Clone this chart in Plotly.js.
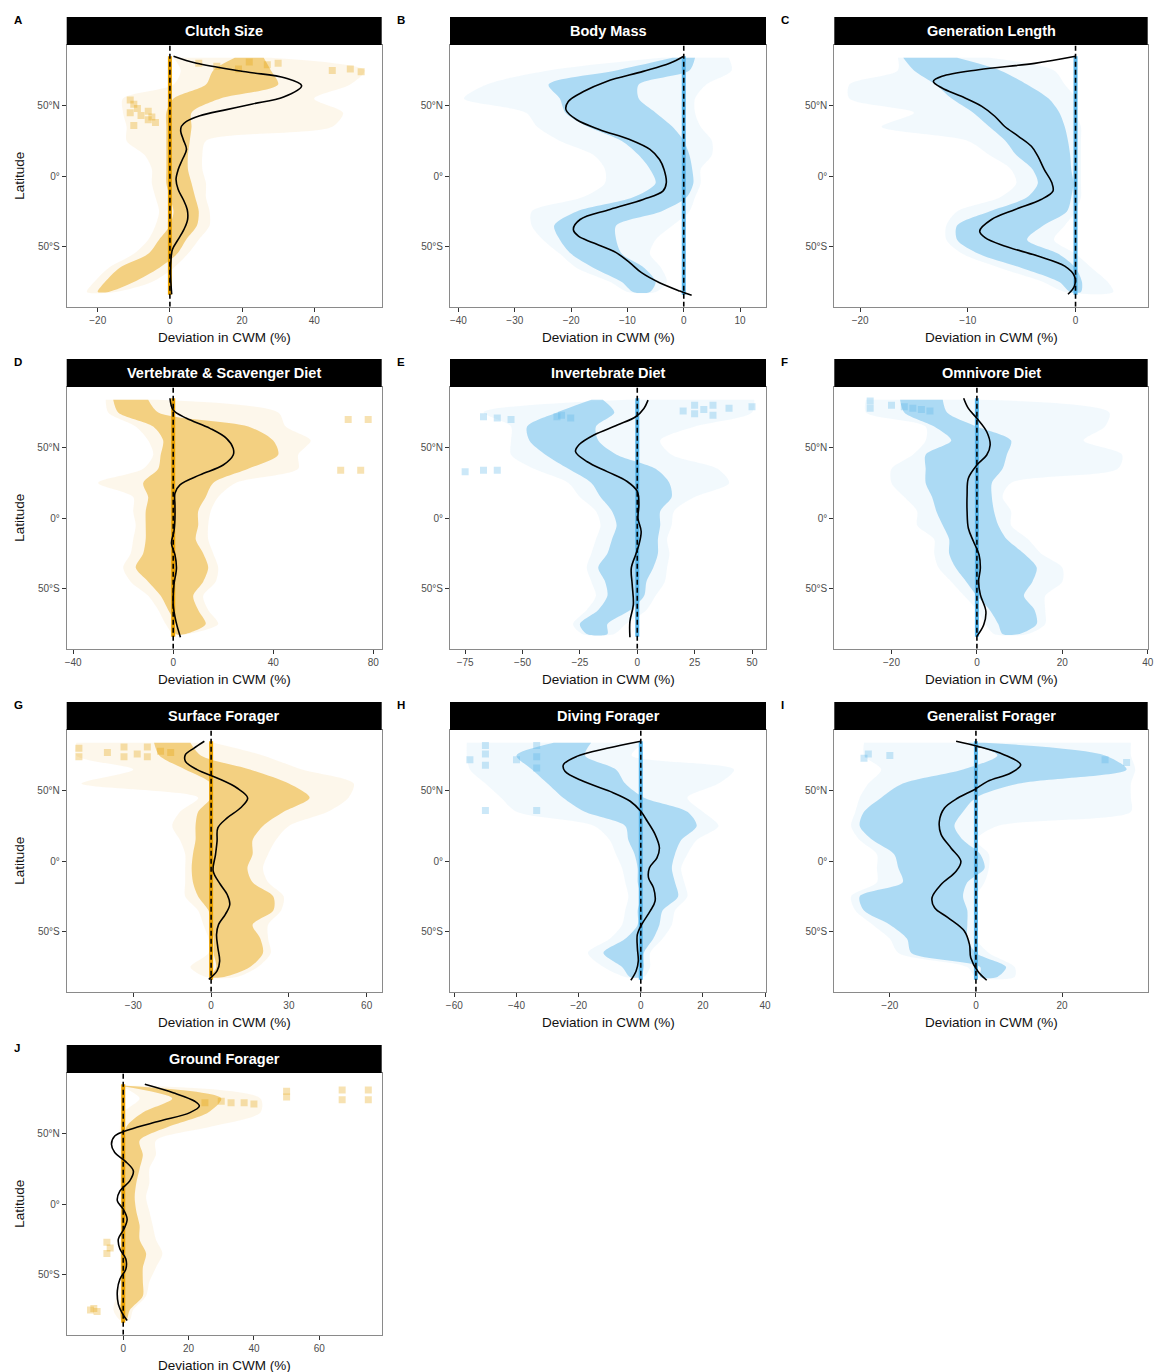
<!DOCTYPE html>
<html><head><meta charset="utf-8">
<script src="https://cdn.plot.ly/plotly-3.0.1.min.js"></script>
<style>html,body{margin:0;padding:0;background:#fff}#chart{width:1156px;height:1372px}</style>
</head><body><div id="chart"></div>
<script>
// ---------- data ----------
const Y_TICK_VALS = [50, 0, -50];
const Y_TICK_TEXT = ['50°N', '0°', '50°S'];
const PANEL_LETTERS = ['A','B','C','D','E','F','G','H','I','J'];
const PANEL_TITLES = ['Clutch Size','Body Mass','Generation Length','Vertebrate & Scavenger Diet','Invertebrate Diet','Omnivore Diet','Surface Forager','Diving Forager','Generalist Forager','Ground Forager'];
const X_TICKS_A = [-20,0,20,40];
const X_TICKS_B = [-40,-30,-20,-10,0,10];
const X_TICKS_C = [-20,-10,0];
const X_TICKS_D = [-40,0,40,80];
const X_TICKS_E = [-75,-50,-25,0,25,50];
const X_TICKS_F = [-20,0,20,40];
const X_TICKS_G = [-30,0,30,60];
const X_TICKS_H = [-60,-40,-20,0,20,40];
const X_TICKS_I = [-20,0,20,40];
const X_TICKS_J = [0,20,40,60];
const ZERO_SPAN = [-84, 85];

// latitude grid of the point-cloud envelopes
const BAND_LAT = [84,75,65,55,45,35,25,15,5,-5,-15,-25,-35,-45,-55,-65,-75,-82];

const A_CORE_LO = [18,12,10,1,-1,-1,-1,-1,-1,-1,0,1,0,-3,-6,-14,-18,-20];
const A_CORE_HI = [26,28,30,14,6,6,5.5,5,5,6,7,8,7.5,4.5,2,-3,-10,-17];
const A_HALO_LO = [1,3,1,-13,-13,-12,-12,-7,-5,-5,-4,-3,-4,-6,-10,-17,-21,-23];
const A_HALO_HI = [28,54,50,40,48,45,10,9,9,10,10,11,11,8,5,1,-5,-15];
const A_EXTRA_X = [8,13,19,22,27,30,45,50,53,-11,-10,-9,-11,-8,-6,-5,-4,-6,-10];
const A_EXTRA_LAT = [80,78,76,81,79,80,75,76,74,54,51,48,45,43,46,42,38,40,36];

const B_CORE_LO = [-2,-12,-24,-22,-21,-17,-11,-8,-6,-5,-9,-19,-23,-22,-20,-16,-11,-9];
const B_CORE_HI = [2,1,-8,-8,-5,-2,0,1,1.5,1.7,0.5,-4,-12,-12,-11,-7,-5,-6];
const B_HALO_LO = [-4,-24,-35,-39,-28,-26,-22,-16,-14,-14,-18,-27,-27,-25,-22,-19,-13,-10];
const B_HALO_HI = [8,8.5,4,2,2,3,5,5,3,3,2,1,-2,-5,-6,-4,-3,-5];
const B_EXTRA_X = [];
const B_EXTRA_LAT = [];

const C_CORE_LO = [-16,-15,-13,-11.5,-9.5,-8,-6.5,-5.5,-4,-3.5,-4.5,-8,-11,-11,-9,-5,-1.5,-0.5];
const C_CORE_HI = [-11,-7,-4.5,-2.5,-1.5,-1,-0.7,-0.5,-0.4,-0.2,-0.4,-0.8,-3,-4.5,-1.6,0,0.6,0.5];
const C_HALO_LO = [-16.5,-16.5,-21,-21,-15,-18,-10,-8,-6,-5.5,-7,-11,-12,-12,-10.5,-7,-3,-1];
const C_HALO_HI = [-8,-2,-1,0,0,0.5,0.5,0.5,0.5,0.5,0.5,0,-1,-2,0,1.5,3,3.5];
const C_EXTRA_X = [];
const C_EXTRA_LAT = [];

const D_CORE_LO = [-24,-22,-8,-4,-5,-6,-12,-10,-11,-11,-11,-12,-15,-10,-5,-2,1,1];
const D_CORE_HI = [-10,-6,30,40,42,30,16,13,10,10,9,12,14,12,8,10,13,5];
const D_HALO_LO = [-27,-26,-15,-10,-8,-12,-30,-16,-16,-15,-16,-17,-20,-17,-10,-6,-3,0];
const D_HALO_HI = [-6,42,45,55,50,50,25,18,15,14,14,16,18,17,12,14,18,6];
const D_EXTRA_X = [70,78,67,75];
const D_EXTRA_LAT = [70,70,34,34];

const E_CORE_LO = [-20,-35,-48,-47,-40,-30,-20,-16,-11,-9,-11,-13,-17,-14,-13,-17,-25,-22];
const E_CORE_HI = [-15,-10,-18,-17,-9,8,14,15,10,10,9,9,7,4,3,-3,-13,-13];
const E_HALO_LO = [-5,-67,-55,-55,-55,-45,-30,-25,-18,-16,-18,-20,-22,-20,-18,-22,-28,-24];
const E_HALO_HI = [51,50,25,10,15,35,40,25,16,15,13,14,13,12,8,4,-5,-10];
const E_EXTRA_X = [20,25,25,29,33,33,40,50,-67,-61,-55,-35,-33,-29,-75,-67,-61];
const E_EXTRA_LAT = [76,80,74,77,80,73,78,79,72,71,70,72,73,71,33,34,34];

const F_CORE_LO = [-18,-17,-10,-6,-12,-12,-12,-10.5,-9.5,-8,-6.5,-6.5,-5,-2.5,0,3,5,6];
const F_CORE_HI = [-8,-7,0,8,7,6,3.5,3.5,4,5,7,11,14,13,11,13.5,14,10];
const F_HALO_LO = [-26,-26,-12,-12,-15,-20,-20,-17,-14,-14,-10,-10,-9,-6,-3,0,2,4];
const F_HALO_HI = [1,31,30,25,34,33,8,6,8,8,12,15,20,20,16,16,16,12];
const F_EXTRA_X = [-25,-25,-20,-17,-15,-13,-11];
const F_EXTRA_LAT = [83,78,80,79,78,77,76];

const G_CORE_LO = [-22,-20,-10,0,0,-5,-6,-6,-7,-7.5,-7,-5,-1,0,1,1,2,0];
const G_CORE_HI = [-8,-4,15,30,38,28,20,16,16,14,16,24,24,16,19,20,15,5];
const G_HALO_LO = [-52,-52,-30,-50,-5,-12,-15,-12,-10,-10,-10,-10,-5,-3,-1,-1,-8,-2];
const G_HALO_HI = [1,20,35,55,53,45,30,25,22,20,22,28,27,22,22,23,18,10];
const G_EXTRA_X = [-51,-51,-40,-33.6,-33.6,-28.5,-24.6,-24.6,-19.5,-15.6];
const G_EXTRA_LAT = [80,74,77,81,74,76,81,74,78,77];

const H_CORE_LO = [-28,-40,-35,-30,-25,-18,-5,-4,-2,-1,-1,0,-1,-1,-5,-12,-6,-3.5];
const H_CORE_HI = [-16,-18,-8,-5,1,15,18,13,11,10,11,12,7,6,4,1,1,0];
const H_HALO_LO = [-56,-56,-55,-50,-45,-40,-15,-10,-8,-6,-5,-4,-5,-6,-10,-17,-12,-5];
const H_HALO_HI = [1,-3,30,25,15,20,25,18,15,13,14,15,11,10,7,3,3,1];
const H_EXTRA_X = [-55,-50,-50,-50,-40,-33.5,-33.5,-33.5,-50,-33.5];
const H_EXTRA_LAT = [72,82,76,68,72,82,74,66,36,36];

const I_CORE_LO = [-2,5,-3,-17,-22,-26,-27,-24,-19,-18,-17,-27,-26,-20,-16,-15,1,1];
const I_CORE_HI = [2,30,35,10,0,-3,-5,-3,1,2,-2,-3,-2,-2,-2,0,7,5];
const I_HALO_LO = [-26,-26,-22,-25,-27,-28,-29,-27,-23,-23,-23,-29,-28,-24,-20,-18,-2,0];
const I_HALO_HI = [36,36,37,36,36,36,5,0,3,3,2,0,0,0,0,3,9,9];
const I_EXTRA_X = [-25,-20,-26,35,30];
const I_EXTRA_LAT = [76,75,73,70,72];

const J_CORE_LO = [-1,15,6,1,0.5,0,0,0,0,0,0,0,0.5,0,0.5,-0.5,-1,-0.5];
const J_CORE_HI = [1,30,26,14,5,6,5,4,3.5,4,5,5,7,6,6,6,2,1];
const J_HALO_LO = [-1,5,0,-1,-1,-1,-1,-1,-1,-1,-1,-1,-1,-1,-1,-2,-3,-1];
const J_HALO_HI = [8,42,42,27,10,10,8,8,7,8,9,10,12,10,8,7,3,2];
const J_EXTRA_X = [50,50,67,67,75,75,25,30,33,37,40,-5,-4,-5,-10,-8,-9];
const J_EXTRA_LAT = [80,76,81,74,81,74,72,73,72,72,71,-27,-31,-35,-75,-76,-74];

// smoothed curves
const A_CURVE_LAT = [85,80,74,69.6,64.2,56.1,51.2,47.2,42.9,38.9,35.4,31.8,26,19,12,4.7,-2.4,-9.4,-16.5,-23.6,-30.7,-37.7,-44.8,-51.9,-59,-70.8,-83.7];
const A_CURVE_DEV = [1,7.4,21,32,36.5,31.5,22.9,15.7,8.3,4.6,3.2,3,3.7,4.6,3.5,2.3,1.7,2.3,3.7,4.8,4.9,3.9,2.3,0.7,0.3,0.2,0.5];
const B_CURVE_LAT = [85,80,74.3,67.2,60,53,47,40,33,26,19,11.8,4.7,-4.7,-10.6,-16.5,-23.6,-30.7,-37.7,-42.5,-47.2,-54.2,-61.3,-68.4,-75.5,-81.4,-84.4];
const B_CURVE_DEV = [0,-2.5,-7.2,-13.7,-17.8,-20.5,-20.9,-19,-14.9,-9.6,-6,-4.3,-3.5,-3.1,-3.7,-7.2,-13.1,-18.4,-19.6,-18.7,-16.1,-12,-9.6,-7.5,-4.3,-0.7,1.4];
const C_CURVE_LAT = [85,80,75.5,70.8,67.2,62.5,56.6,49.5,42.5,35.4,28.3,21.2,14.2,4.7,-4.7,-10.6,-16.5,-23.6,-30.7,-38.9,-43.6,-49.5,-56.6,-63.7,-70.8,-77.8,-83.7];
const C_CURVE_DEV = [0,-3.8,-9,-12.4,-13.2,-12.4,-10.6,-8.7,-7.5,-6.6,-5.3,-4.1,-3.5,-2.9,-2.2,-2.1,-3.2,-5.6,-7.8,-8.9,-8.4,-6.6,-3.5,-1,-0.1,-0.1,-0.7];
const D_CURVE_LAT = [85,76.7,70.8,63.7,56.6,49.5,44.8,37.7,30.7,23.6,17.7,9.4,0,-9.4,-17.7,-25.9,-35.4,-47.2,-61.3,-73.1,-84.4];
const D_CURVE_DEV = [-1.3,0,5.3,14.7,21.3,24,24,20,10.7,2.7,0.7,0.7,0.7,0.3,-0.7,0.7,1.3,0.3,0,1.1,2.9];
const E_CURVE_LAT = [83.7,77.8,71.9,66,59,51.9,47.2,40,33,26,19,9.4,0,-9.4,-18.9,-25.9,-35.4,-47.2,-61.3,-73.1,-84.4];
const E_CURVE_DEV = [4.7,2.9,-0.7,-8.7,-18.9,-25.5,-26.9,-21.8,-13.1,-4.4,0,0.7,0.3,1.7,0.7,-0.7,-2.6,-2.2,-1.7,-3.2,-3.2];
const F_CURVE_LAT = [85,77.8,70.8,61.3,51.9,44.8,37.7,28.3,16.5,4.7,-7.1,-16.5,-25.9,-35.4,-44.8,-54.2,-66,-75.5,-83.7];
const F_CURVE_DEV = [-3.1,-2,0,2.3,3.1,2.3,0,-2,-2.3,-2.3,-2,-0.8,0.5,0.8,0.4,0.8,2.1,1.6,0];
const G_CURVE_LAT = [85,80,75.5,70.8,64.9,59,51.9,44.8,37.7,30.7,23.6,14.2,4.7,-7.1,-16.5,-23.6,-30.7,-37.7,-44.8,-51.9,-61.3,-70.8,-77.8,-83.7];
const G_CURVE_DEV = [-2.6,-6.7,-9.9,-9.9,-5.4,2.3,10,14.1,11.3,6.2,2.6,2.3,1.7,0.8,3.6,6.2,7.2,5.5,2.9,2.1,2.6,3.3,2.3,-0.9];
const H_CURVE_LAT = [85,80,74.3,68.4,63.7,56.6,49.5,42.5,35.4,28.3,19,9.4,2.4,-4.7,-11.8,-18.9,-28.3,-35.4,-44.8,-51.9,-61.3,-70.8,-77.8,-84.4];
const H_CURVE_DEV = [0,-10.9,-20.6,-24.9,-24.4,-18.5,-9.9,-3.4,0,2.1,4.6,6,5.2,2.8,2.5,4.1,4.6,3,0.3,-1.1,-1.1,-0.8,-1.5,-3.2];
const I_CURVE_LAT = [85,81.4,75.5,68.4,62.5,56.6,50.7,44.8,37.7,28.3,19,9.4,0,-7.1,-16.5,-25.9,-33,-40,-49.5,-59,-68.4,-77.8,-84.4];
const I_CURVE_DEV = [-4.6,0.4,6.5,10.4,8.1,2.7,-0.4,-4.2,-7.3,-8.5,-8.1,-5.8,-3.5,-4.6,-8.1,-10.2,-9.6,-6.5,-2.7,-1.5,-1.2,0.4,2.5];
const J_CURVE_LAT = [85,79,73,69.6,64.9,59,53,48.3,42.5,36.6,30.7,23.6,16.5,9.4,2.4,-3.5,-10.6,-17.7,-24.8,-31.8,-38.9,-46,-53,-61.3,-70.8,-77.8,-82.5];
const J_CURVE_DEV = [6.6,15.3,21.9,23.3,20.4,11.2,2,-2.6,-3.6,-2.6,0.5,3.1,2,-1,-1.8,0,1.2,0.2,-1.5,-1,0.8,0.8,-1,-1.8,-1.5,-0.2,1.2];

// ---------- layout (pixels) ----------
const W = 1156, H = 1372;
const COLS = [[66.7,381.7],[450,766],[834.3,1147.7]];
const ROWS = [[45,306.7],[387,648.7],[730,991.7],[1073,1334.7]];
const STRIP_H = 28;
const Y_RANGE = [-92.5, 93];
const ORANGE = [230,159,0], BLUE = [86,180,233];
const FONT = 'Liberation Sans, Arial, Helvetica, sans-serif';

const P = [
 {xr:[-28.6,58.7], xt:X_TICKS_A, col:ORANGE, cl:A_CORE_LO, ch:A_CORE_HI, hl:A_HALO_LO, hh:A_HALO_HI, ex:A_EXTRA_X, ey:A_EXTRA_LAT, cy:A_CURVE_LAT, cx:A_CURVE_DEV},
 {xr:[-41.5,14.6], xt:X_TICKS_B, col:BLUE, cl:B_CORE_LO, ch:B_CORE_HI, hl:B_HALO_LO, hh:B_HALO_HI, ex:B_EXTRA_X, ey:B_EXTRA_LAT, cy:B_CURVE_LAT, cx:B_CURVE_DEV},
 {xr:[-22.4,6.7], xt:X_TICKS_C, col:BLUE, cl:C_CORE_LO, ch:C_CORE_HI, hl:C_HALO_LO, hh:C_HALO_HI, ex:C_EXTRA_X, ey:C_EXTRA_LAT, cy:C_CURVE_LAT, cx:C_CURVE_DEV},
 {xr:[-42.6,83.4], xt:X_TICKS_D, col:ORANGE, cl:D_CORE_LO, ch:D_CORE_HI, hl:D_HALO_LO, hh:D_HALO_HI, ex:D_EXTRA_X, ey:D_EXTRA_LAT, cy:D_CURVE_LAT, cx:D_CURVE_DEV},
 {xr:[-81.6,56.1], xt:X_TICKS_E, col:BLUE, cl:E_CORE_LO, ch:E_CORE_HI, hl:E_HALO_LO, hh:E_HALO_HI, ex:E_EXTRA_X, ey:E_EXTRA_LAT, cy:E_CURVE_LAT, cx:E_CURVE_DEV},
 {xr:[-33.4,40.0], xt:X_TICKS_F, col:BLUE, cl:F_CORE_LO, ch:F_CORE_HI, hl:F_HALO_LO, hh:F_HALO_HI, ex:F_EXTRA_X, ey:F_EXTRA_LAT, cy:F_CURVE_LAT, cx:F_CURVE_DEV},
 {xr:[-55.7,65.8], xt:X_TICKS_G, col:ORANGE, cl:G_CORE_LO, ch:G_CORE_HI, hl:G_HALO_LO, hh:G_HALO_HI, ex:G_EXTRA_X, ey:G_EXTRA_LAT, cy:G_CURVE_LAT, cx:G_CURVE_DEV},
 {xr:[-61.4,40.3], xt:X_TICKS_H, col:BLUE, cl:H_CORE_LO, ch:H_CORE_HI, hl:H_HALO_LO, hh:H_HALO_HI, ex:H_EXTRA_X, ey:H_EXTRA_LAT, cy:H_CURVE_LAT, cx:H_CURVE_DEV},
 {xr:[-32.9,39.9], xt:X_TICKS_I, col:BLUE, cl:I_CORE_LO, ch:I_CORE_HI, hl:I_HALO_LO, hh:I_HALO_HI, ex:I_EXTRA_X, ey:I_EXTRA_LAT, cy:I_CURVE_LAT, cx:I_CURVE_DEV},
 {xr:[-17.3,79.1], xt:X_TICKS_J, col:ORANGE, cl:J_CORE_LO, ch:J_CORE_HI, hl:J_HALO_LO, hh:J_HALO_HI, ex:J_EXTRA_X, ey:J_EXTRA_LAT, cy:J_CURVE_LAT, cx:J_CURVE_DEV}
];

function rgba(c, a){ return 'rgba(' + c[0] + ',' + c[1] + ',' + c[2] + ',' + a + ')'; }
function band(lo, hi){
  return { x: lo.concat(hi.slice().reverse()), y: BAND_LAT.concat(BAND_LAT.slice().reverse()) };
}

const traces = [];
const layout = {
  width: W, height: H, margin: {l:0, r:0, t:0, b:0},
  paper_bgcolor: '#fff', plot_bgcolor: '#fff', showlegend: false,
  font: {family: FONT}, shapes: [], annotations: []
};

P.forEach((p, i) => {
  const n = i + 1, r = Math.floor(i / 3), c = i % 3;
  const xa = 'x' + (n === 1 ? '' : n), ya = 'y' + (n === 1 ? '' : n);
  const [x0, x1] = COLS[c], [y0, y1] = ROWS[r];
  const axCommon = {
    showgrid: false, zeroline: false, showline: true, mirror: true,
    linecolor: '#8a8a8a', linewidth: 1, ticks: 'outside', ticklen: 4,
    tickcolor: '#333', tickwidth: 1, tickfont: {size: 10, color: '#4d4d4d', family: FONT},
    fixedrange: true
  };
  layout['xaxis' + (n === 1 ? '' : n)] = Object.assign({}, axCommon, {
    domain: [x0 / W, x1 / W], anchor: ya, range: p.xr, tickvals: p.xt
  });
  layout['yaxis' + (n === 1 ? '' : n)] = Object.assign({}, axCommon, {
    domain: [1 - y1 / H, 1 - y0 / H], anchor: xa, range: Y_RANGE,
    tickvals: Y_TICK_VALS, ticktext: Y_TICK_TEXT
  });

  const halo = band(p.hl, p.hh), core = band(p.cl, p.ch);
  traces.push({x: halo.x, y: halo.y, xaxis: xa, yaxis: ya, type: 'scatter', mode: 'lines',
    fill: 'toself', fillcolor: rgba(p.col, 0.08), line: {width: 0, shape: 'spline', smoothing: 0.8},
    hoverinfo: 'skip'});
  traces.push({x: core.x, y: core.y, xaxis: xa, yaxis: ya, type: 'scatter', mode: 'lines',
    fill: 'toself', fillcolor: rgba(p.col, 0.45), line: {width: 0, shape: 'spline', smoothing: 0.8},
    hoverinfo: 'skip'});
  if (p.ex.length) traces.push({x: p.ex, y: p.ey, xaxis: xa, yaxis: ya, type: 'scatter', mode: 'markers',
    marker: {size: 7, symbol: 'square', color: rgba(p.col, 0.3), line: {width: 0}}, hoverinfo: 'skip'});
  // coloured zero line over data span, then black dashed reference line
  traces.push({x: [0, 0], y: ZERO_SPAN, xaxis: xa, yaxis: ya, type: 'scatter', mode: 'lines',
    line: {color: rgba(p.col, 1), width: 4}, hoverinfo: 'skip'});
  traces.push({x: [0, 0], y: Y_RANGE, xaxis: xa, yaxis: ya, type: 'scatter', mode: 'lines',
    line: {color: '#000', width: 1.6, dash: '5px,3px'}, hoverinfo: 'skip'});
  traces.push({x: p.cx, y: p.cy, xaxis: xa, yaxis: ya, type: 'scatter', mode: 'lines',
    line: {color: '#000', width: 1.6, shape: 'spline', smoothing: 1}, hoverinfo: 'skip'});

  // strip
  layout.shapes.push({type: 'rect', xref: 'paper', yref: 'paper',
    x0: x0 / W, x1: x1 / W, y0: 1 - y0 / H, y1: 1 - (y0 - STRIP_H) / H,
    fillcolor: '#000', line: {width: 0}});
  layout.annotations.push({xref: 'paper', yref: 'paper', x: (x0 + x1) / 2 / W, y: 1 - (y0 - STRIP_H / 2) / H,
    text: '<b>' + PANEL_TITLES[i].replace('&', '&amp;') + '</b>', showarrow: false,
    font: {size: 14.5, color: '#fff', family: FONT}, xanchor: 'center', yanchor: 'middle'});
  // panel letter
  layout.annotations.push({xref: 'paper', yref: 'paper', x: (x0 - 55) / W, y: 1 - (y0 - 25) / H,
    text: '<b>' + PANEL_LETTERS[i] + '</b>', showarrow: false,
    font: {size: 11.5, color: '#000', family: FONT}, xanchor: 'left', yanchor: 'middle'});
  // x title
  layout.annotations.push({xref: 'paper', yref: 'paper', x: (x0 + x1) / 2 / W, y: 1 - (y1 + 31) / H,
    text: 'Deviation in CWM (%)', showarrow: false,
    font: {size: 13.5, color: '#111', family: FONT}, xanchor: 'center', yanchor: 'middle'});
  if (c === 0) layout.annotations.push({xref: 'paper', yref: 'paper', x: 20 / W, y: 1 - (y0 + y1) / 2 / H,
    text: 'Latitude', textangle: -90, showarrow: false,
    font: {size: 13.5, color: '#111', family: FONT}, xanchor: 'center', yanchor: 'middle'});
});

Plotly.newPlot('chart', traces, layout, {staticPlot: true, displayModeBar: false});
</script>
</body></html>
